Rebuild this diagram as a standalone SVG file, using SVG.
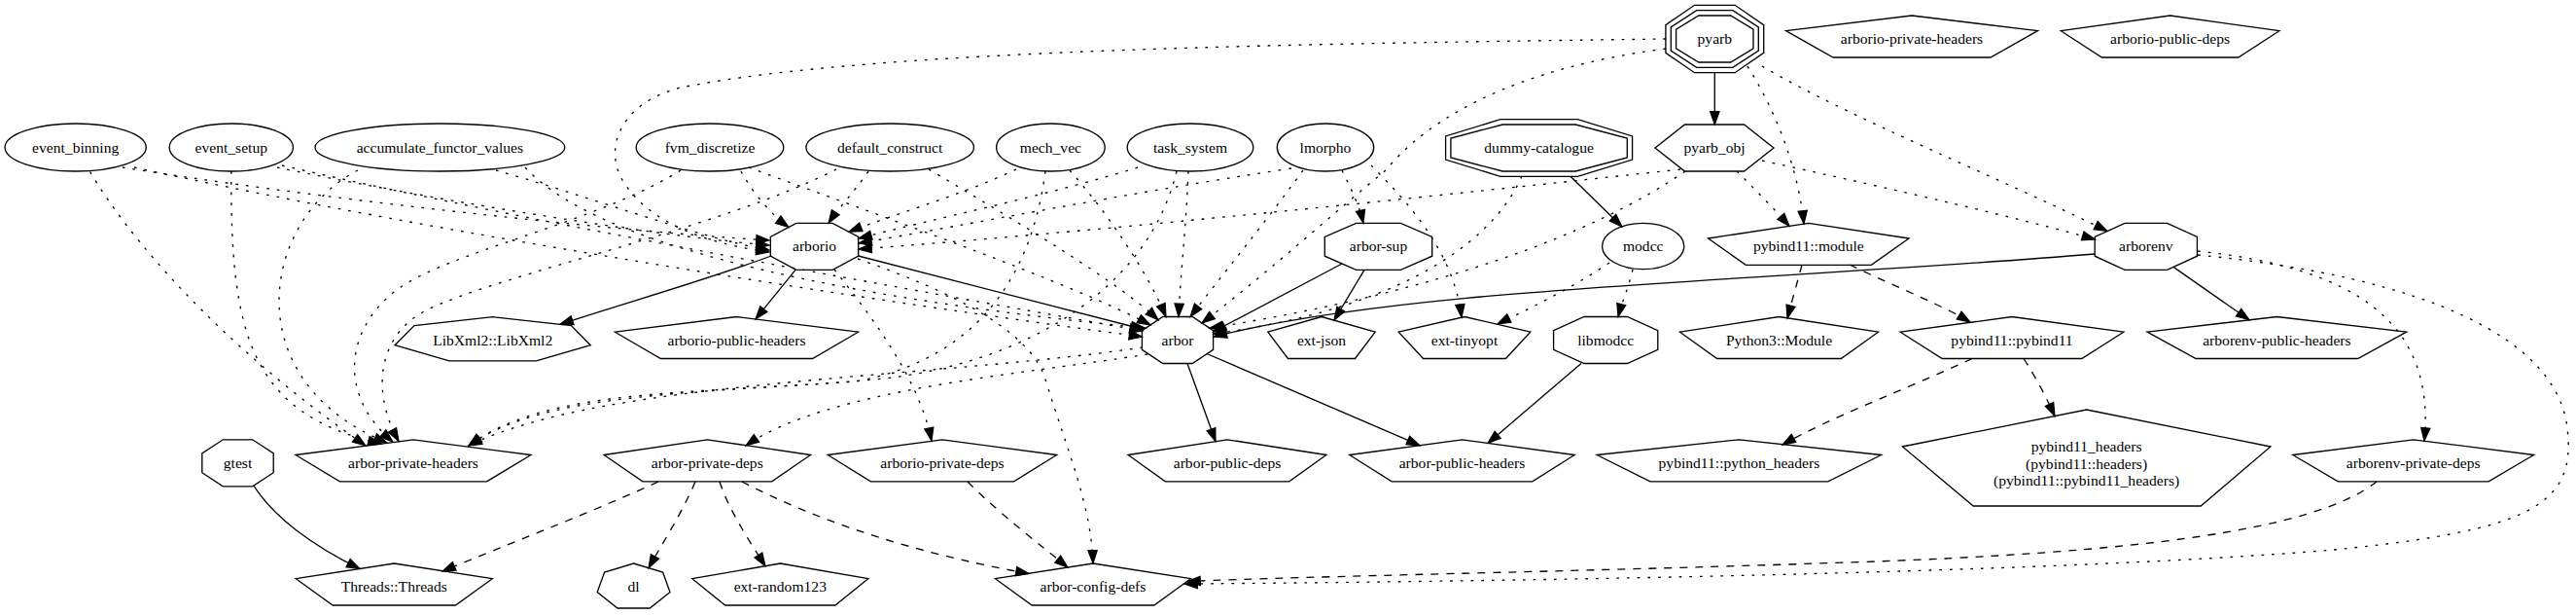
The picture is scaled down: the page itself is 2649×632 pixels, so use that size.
<svg xmlns="http://www.w3.org/2000/svg" width="2649" height="632" viewBox="0 0 2649 632">
<style>
.nd polygon,.nd ellipse{fill:none;stroke:#000;stroke-width:1.33}
.nd text{font-family:"Liberation Serif","Times New Roman",serif;font-size:15.6px;text-anchor:middle;fill:#000}
.e{fill:none;stroke:#000;stroke-width:1.33;marker-end:url(#ah)}
.dot{stroke-dasharray:2.7 8}
.dash{stroke-dasharray:8 8}
</style>
<defs>
<marker id="ah" markerUnits="userSpaceOnUse" markerWidth="16" markerHeight="12" refX="13.3" refY="4.67" orient="auto" overflow="visible">
<path d="M0,0 L13.3,4.67 L0,9.33 Z" fill="#000" stroke="#000" stroke-width="1.2"/>
</marker>
</defs>
<rect x="0" y="0" width="2649" height="632" fill="#fff"/>
<g id="edges">
<path class="e dot" d="M92.6,176.7 C130,240 220,350 376,458"/>
<path class="e dot" d="M237.8,176 C237,340 255,425 392,456"/>
<path class="e dot" d="M368,175 C270,225 240,390 398,455"/>
<path class="e dot" d="M700,175 C620,225 480,255 420,290 C360,325 340,400 404,454"/>
<path class="e dot" d="M860,174 C740,235 520,280 440,318 C390,342 380,400 410,453.5"/>
<path class="e dot" d="M1175,357 C950,390 620,390 482,458"/>
<path class="e dot" d="M1075,176 C1060,290 1000,370 880,392 C700,405 560,400 482,458"/>
<path class="e dot" d="M1210,176 C1180,300 1050,375 900,390 C720,405 560,402 482,458"/>
<path class="e dot" d="M126,172 C300,200 600,235 791,247"/>
<path class="e dot" d="M285,172 C420,200 650,240 791,252"/>
<path class="e dot" d="M510,175 C600,200 720,245 791,257"/>
<path class="e dot" d="M762,176 C775,200 795,222 811,233.5"/>
<path class="e dot" d="M893,176 C878,198 862,214 852,229.3"/>
<path class="e dot" d="M1045,174 C990,200 920,220 873,238.2"/>
<path class="e dot" d="M1170,172 C1080,200 960,225 883,245"/>
<path class="e dot" d="M1328,173 C1150,200 1000,230 883,250"/>
<path class="e dot" d="M1728,174 C1400,210 1100,240 883,256"/>
<path class="e dot" d="M1713,40 C1350,45 900,50 700,90 C640,105 620,150 640,185 C670,235 740,252 791,259"/>
<path class="e dot" d="M1713,50 C1560,70 1470,120 1425,175 C1370,220 1310,275 1236,332"/>
<path class="e dot" d="M1797,68 C1830,120 1850,180 1855,230"/>
<path class="e dot" d="M1812,68 C1900,120 2050,180 2167,237.5"/>
<path class="e dot" d="M1733,176 C1640,240 1480,300 1244,337.2"/>
<path class="e dot" d="M1786,176 C1805,195 1825,215 1840,232.3"/>
<path class="e dot" d="M1812,165 C1950,195 2080,225 2154.5,246"/>
<path class="e dot" d="M1565,181 C1530,260 1420,320 1248,343"/>
<path class="e dot" d="M1655,270 C1610,300 1570,318 1540,333"/>
<path class="e dot" d="M1679,277 C1675,295 1668,310 1664,325.5"/>
<path class="e dot" d="M1380,175 C1390,195 1398,212 1402,229.3"/>
<path class="e dot" d="M1410,170 C1450,210 1495,260 1503,326.2"/>
<path class="e dot" d="M1340,175 C1300,230 1255,285 1224,325.5"/>
<path class="e dot" d="M138,172 C450,240 900,310 1174.5,346"/>
<path class="e dot" d="M290,170 C550,230 950,300 1175,340"/>
<path class="e dot" d="M540,172 C620,260 900,310 1178,337.2"/>
<path class="e dot" d="M770,172 C900,220 1100,290 1183,333.9"/>
<path class="e dot" d="M955,174 C1050,230 1150,290 1191,328.7"/>
<path class="e dot" d="M1100,175 C1140,220 1180,280 1199,325.5"/>
<path class="e dot" d="M1222,176 C1220,230 1214,280 1212,325.5"/>
<path class="e dot" d="M1180,364 C1050,385 850,400 767,458"/>
<path class="e dot" d="M858,277 C900,330 945,390 958,453"/>
<path class="e dot" d="M882,266 C980,300 1060,340 1075,390 C1100,470 1122,520 1124,579"/>
<path class="e dot" d="M2260,258 C2420,275 2505,330 2493,453"/>
<path class="e dot" d="M2260,262 C2500,285 2630,350 2640,440 C2650,520 2600,545 2400,565 C2100,590 1500,598 1218,600"/>
<path class="e dash" d="M1853,272.3 L1838,327"/>
<path class="e dash" d="M1902,272 C1950,295 2000,315 2026,331"/>
<path class="e dash" d="M2028,368.5 C1960,400 1880,430 1833,457"/>
<path class="e dash" d="M2081,368.5 C2095,390 2105,410 2113,427.5"/>
<path class="e dash" d="M677,495 C600,530 520,560 455,587"/>
<path class="e dash" d="M715,495 C700,530 680,560 667,583.6"/>
<path class="e dash" d="M740,495 C750,525 770,555 787,581.7"/>
<path class="e dash" d="M763,495 C850,540 950,570 1058,589.5"/>
<path class="e dash" d="M995,495 C1030,530 1070,560 1098,583"/>
<path class="e dash" d="M2444,495 C2380,545 2200,568 1900,578 C1600,588 1350,592 1221,597.5"/>
<path class="e" d="M1763.3,74.7 L1763.3,128"/>
<path class="e" d="M1615,181.3 L1668,233"/>
<path class="e" d="M793,263 C720,290 640,312 576,333.3"/>
<path class="e" d="M818,277.3 L777,327.9"/>
<path class="e" d="M882.7,263 L1176,338.5"/>
<path class="e" d="M1380,271 L1247.6,341"/>
<path class="e" d="M1403,277.3 L1372,329"/>
<path class="e" d="M2154.2,261 C1800,290 1450,295 1248,346"/>
<path class="e" d="M2235,274.4 L2313,328.8"/>
<path class="e" d="M1221,373.5 L1250,453.6"/>
<path class="e" d="M1241,363.5 L1460,457.7"/>
<path class="e" d="M1626,373.5 L1530,455.4"/>
<path class="e" d="M261,499 C280,530 320,560 370,584.5"/>
</g>
<g id="n-event_binning" class="nd"><ellipse cx="77.7" cy="151.5" rx="72.6" ry="24.5"/><text x="77.7" y="156.5">event_binning</text></g>
<g id="n-event_setup" class="nd"><ellipse cx="237.8" cy="151.5" rx="63.6" ry="24.5"/><text x="237.8" y="156.5">event_setup</text></g>
<g id="n-accumulate_functor_values" class="nd"><ellipse cx="452.4" cy="151.5" rx="128.4" ry="24.5"/><text x="452.4" y="156.5">accumulate_functor_values</text></g>
<g id="n-fvm_discretize" class="nd"><ellipse cx="730" cy="151.5" rx="75.8" ry="24.5"/><text x="730" y="156.5">fvm_discretize</text></g>
<g id="n-default_construct" class="nd"><ellipse cx="915.2" cy="151.5" rx="86.3" ry="24.5"/><text x="915.2" y="156.5">default_construct</text></g>
<g id="n-mech_vec" class="nd"><ellipse cx="1080.4" cy="151.5" rx="55.8" ry="24.5"/><text x="1080.4" y="156.5">mech_vec</text></g>
<g id="n-task_system" class="nd"><ellipse cx="1224" cy="151.5" rx="64.8" ry="24.5"/><text x="1224" y="156.5">task_system</text></g>
<g id="n-lmorpho" class="nd"><ellipse cx="1363" cy="151.5" rx="49.7" ry="24.5"/><text x="1363" y="156.5">lmorpho</text></g>
<g id="n-dummy-catalogue" class="nd"><polygon points="1545.1,128 1620.1,128 1673.3,142.1 1673.3,161.9 1620.1,176 1545.1,176 1491.9,161.9 1491.9,142.1"/><polygon points="1542.9,122.7 1622.3,122.7 1678.6,139.9 1678.6,164.1 1622.3,181.3 1542.9,181.3 1486.6,164.1 1486.6,139.9"/><text x="1582.6" y="157">dummy-catalogue</text></g>
<g id="n-pyarb" class="nd"><polygon points="1746.9,16 1779.7,16 1803,30.1 1803,49.9 1779.7,64 1746.9,64 1723.6,49.9 1723.6,30.1"/><polygon points="1744.7,10.7 1781.9,10.7 1808.3,27.9 1808.3,52.1 1781.9,69.3 1744.7,69.3 1718.3,52.1 1718.3,27.9"/><polygon points="1742.5,5.3 1784.1,5.3 1813.7,25.7 1813.7,54.3 1784.1,74.7 1742.5,74.7 1712.9,54.3 1712.9,25.7"/><text x="1763.3" y="45">pyarb</text></g>
<g id="n-pyarb_obj" class="nd"><polygon points="1702,152 1732.5,128 1793.5,128 1824,152 1793.5,176 1732.5,176"/><text x="1763" y="157">pyarb_obj</text></g>
<g id="n-arborio-private-headers" class="nd"><polygon points="1966,16 2095.5,31.7 2046.9,59 1885.1,59 1836.5,31.7"/><text x="1966" y="45">arborio-private-headers</text></g>
<g id="n-arborio-public-deps" class="nd"><polygon points="2231.6,16 2343.9,31.7 2301.8,59 2161.4,59 2119.3,31.7"/><text x="2231.6" y="45">arborio-public-deps</text></g>
<g id="n-arborio" class="nd"><polygon points="818.8,229.3 856.2,229.3 882.7,243.4 882.7,263.2 856.2,277.3 818.8,277.3 792.3,263.2 792.3,243.4"/><text x="837.5" y="258.3">arborio</text></g>
<g id="n-arbor-sup" class="nd"><polygon points="1394.6,229.3 1440.4,229.3 1472.7,243.4 1472.7,263.2 1440.4,277.3 1394.6,277.3 1362.3,263.2 1362.3,243.4"/><text x="1417.5" y="258.3">arbor-sup</text></g>
<g id="n-modcc" class="nd"><ellipse cx="1689.7" cy="253" rx="42.1" ry="23.7"/><text x="1689.7" y="258">modcc</text></g>
<g id="n-pybind11-module" class="nd"><polygon points="1859.8,229.3 1963,245 1924.3,272.3 1795.3,272.3 1756.6,245"/><text x="1859.8" y="258.3">pybind11::module</text></g>
<g id="n-arborenv" class="nd"><polygon points="2185,229.3 2228.6,229.3 2259.4,243.4 2259.4,263.2 2228.6,277.3 2185,277.3 2154.2,263.2 2154.2,243.4"/><text x="2206.8" y="258.3">arborenv</text></g>
<g id="n-LibXml2" class="nd"><polygon points="506.7,325.7 587.4,334.6 607.3,354.7 551.5,370.8 461.9,370.8 406.1,354.7 426,334.6"/><text x="506.7" y="354.5">LibXml2::LibXml2</text></g>
<g id="n-arborio-public-headers" class="nd"><polygon points="757.5,325.5 882.5,341.2 835.6,368.5 679.4,368.5 632.5,341.2"/><text x="757.5" y="354.5">arborio-public-headers</text></g>
<g id="n-arbor" class="nd"><polygon points="1195.8,325.5 1226.2,325.5 1247.6,339.6 1247.6,359.4 1226.2,373.5 1195.8,373.5 1174.4,359.4 1174.4,339.6"/><text x="1211" y="354.5">arbor</text></g>
<g id="n-ext-json" class="nd"><polygon points="1359,325.5 1414.2,341.2 1393.5,368.5 1324.5,368.5 1303.8,341.2"/><text x="1359" y="354.5">ext-json</text></g>
<g id="n-ext-tinyopt" class="nd"><polygon points="1506,325.5 1573.8,341.2 1548.4,368.5 1463.6,368.5 1438.2,341.2"/><text x="1506" y="354.5">ext-tinyopt</text></g>
<g id="n-libmodcc" class="nd"><polygon points="1629,325.5 1673.4,325.5 1704.8,339.6 1704.8,359.4 1673.4,373.5 1629,373.5 1597.6,359.4 1597.6,339.6"/><text x="1651.2" y="354.5">libmodcc</text></g>
<g id="n-Python3-Module" class="nd"><polygon points="1829.5,325.5 1931.5,341.2 1893.3,368.5 1765.7,368.5 1727.5,341.2"/><text x="1829.5" y="354.5">Python3::Module</text></g>
<g id="n-pybind11-pybind11" class="nd"><polygon points="2069,325.5 2183.8,341.2 2140.8,368.5 1997.2,368.5 1954.2,341.2"/><text x="2069" y="354.5">pybind11::pybind11</text></g>
<g id="n-arborenv-public-headers" class="nd"><polygon points="2341.4,325.5 2474.7,341.2 2424.7,368.5 2258.1,368.5 2208.1,341.2"/><text x="2341.4" y="354.5">arborenv-public-headers</text></g>
<g id="n-gtest" class="nd"><polygon points="229.3,451.8 259.7,451.8 281.2,465.9 281.2,485.7 259.7,499.8 229.3,499.8 207.8,485.7 207.8,465.9"/><text x="244.5" y="480.8">gtest</text></g>
<g id="n-arbor-private-headers" class="nd"><polygon points="425,451.8 546,467.5 500.6,494.8 349.4,494.8 304,467.5"/><text x="425" y="480.8">arbor-private-headers</text></g>
<g id="n-arbor-private-deps" class="nd"><polygon points="727.3,451.8 833.5,467.5 793.7,494.8 660.9,494.8 621.1,467.5"/><text x="727.3" y="480.8">arbor-private-deps</text></g>
<g id="n-arborio-private-deps" class="nd"><polygon points="969,451.8 1086.7,467.5 1042.6,494.8 895.4,494.8 851.3,467.5"/><text x="969" y="480.8">arborio-private-deps</text></g>
<g id="n-arbor-public-deps" class="nd"><polygon points="1262,451.8 1363.9,467.5 1325.7,494.8 1198.3,494.8 1160.1,467.5"/><text x="1262" y="480.8">arbor-public-deps</text></g>
<g id="n-arbor-public-headers" class="nd"><polygon points="1503.5,451.8 1619.2,467.5 1575.8,494.8 1431.2,494.8 1387.8,467.5"/><text x="1503.5" y="480.8">arbor-public-headers</text></g>
<g id="n-pybind11-python_headers" class="nd"><polygon points="1788.4,451.8 1934.6,467.5 1879.8,494.8 1697,494.8 1642.2,467.5"/><text x="1788.4" y="480.8">pybind11::python_headers</text></g>
<g id="n-pybind11_headers" class="nd"><polygon points="2145.6,421 2334.9,459 2263.2,520 2029.2,520 1956.4,459"/><text x="2145.6" y="464">pybind11_headers</text><text x="2145.6" y="481.7">(pybind11::headers)</text><text x="2145.6" y="499.3">(pybind11::pybind11_headers)</text></g>
<g id="n-arborenv-private-deps" class="nd"><polygon points="2481.7,451.8 2605.6,467.5 2559.1,494.8 2404.3,494.8 2357.8,467.5"/><text x="2481.7" y="480.8">arborenv-private-deps</text></g>
<g id="n-Threads" class="nd"><polygon points="405.3,579 506.3,594.7 468.4,622 342.2,622 304.3,594.7"/><text x="405.3" y="608">Threads::Threads</text></g>
<g id="n-dl" class="nd"><polygon points="651.6,579 681.6,588.1 689,608.6 668.2,625 635,625 614.2,608.6 621.6,588.1"/><text x="651.6" y="608">dl</text></g>
<g id="n-ext-random123" class="nd"><polygon points="802.3,579 892.8,594.7 858.9,622 745.7,622 711.8,594.7"/><text x="802.3" y="608">ext-random123</text></g>
<g id="n-arbor-config-defs" class="nd"><polygon points="1124,579 1224.5,594.7 1186.8,622 1061.2,622 1023.5,594.7"/><text x="1124" y="608">arbor-config-defs</text></g>
</svg>
